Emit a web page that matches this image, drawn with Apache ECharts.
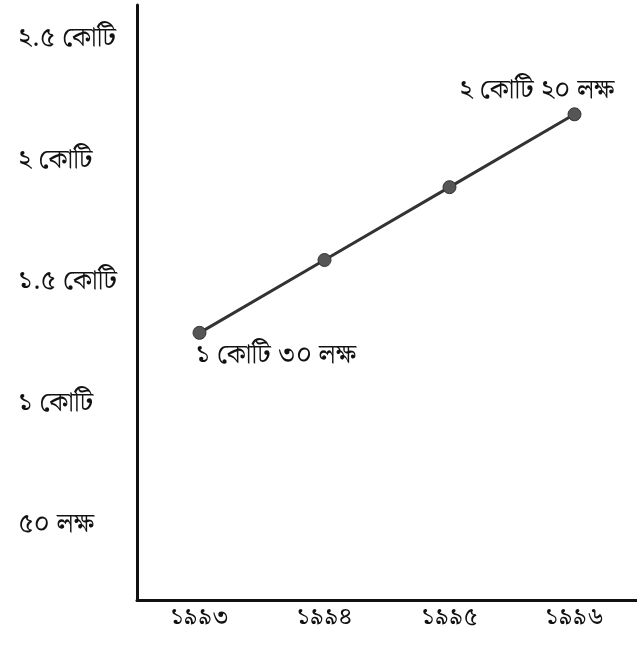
<!DOCTYPE html>
<html>
<head>
<meta charset="utf-8">
<script src="https://cdn.jsdelivr.net/npm/echarts@6/dist/echarts.min.js"></script>
<style>
  html, body { margin: 0; padding: 0; background: #fff; }
  #chart { width: 637px; height: 648px; }
</style>
</head>
<body>
<div id="chart"></div>
<script>
// values in lakh
var years = ['১৯৯৩', '১৯৯৪', '১৯৯৫', '১৯৯৬'];
var population = [130, 160, 190, 220];
var tickValues = [50, 100, 150, 200, 250];
var tickLabels = ['৫০ লক্ষ', '১ কোটি', '১.৫ কোটি', '২ কোটি', '২.৫ কোটি'];
var pointLabels = ['১ কোটি ৩০ লক্ষ', '', '', '২ কোটি ২০ লক্ষ'];

var fontFam = '"Noto Serif Bengali", "Noto Sans Bengali", "Lohit Bengali", FreeSerif, serif';

var chart = echarts.init(document.getElementById('chart'));

var seriesData = population.map(function (v, i) {
    var item = { value: v };
    if (i === 0) {
        item.label = { show: true, position: 'bottom', align: 'left', offset: [-4, 0], formatter: pointLabels[i] };
    } else if (i === population.length - 1) {
        item.label = { show: true, position: 'top', align: 'right', offset: [40, 4], formatter: pointLabels[i] };
    }
    return item;
});

chart.setOption({
    backgroundColor: '#fff',
    animation: false,
    textStyle: { fontFamily: fontFam },
    grid: { left: 137, right: 0, top: 5, bottom: 48 },
    xAxis: {
        type: 'category',
        data: years,
        boundaryGap: true,
        axisLine: { lineStyle: { color: '#111', width: 3 } },
        axisTick: { show: false },
        axisLabel: { color: '#111', fontSize: 25, margin: 8, fontFamily: fontFam }
    },
    yAxis: {
        type: 'value',
        min: 20,
        max: 265,
        splitLine: { show: false },
        axisLine: { show: true, lineStyle: { color: '#111', width: 3 } },
        axisTick: { show: false },
        axisLabel: {
            customValues: tickValues,
            color: '#111',
            fontSize: 27,
            margin: 119,
            align: 'left',
            fontFamily: fontFam,
            formatter: function (v) {
                var i = tickValues.indexOf(v);
                return i >= 0 ? tickLabels[i] : '';
            }
        }
    },
    series: [{
        type: 'line',
        data: seriesData,
        symbol: 'circle',
        symbolSize: 13,
        lineStyle: { color: '#333', width: 3 },
        itemStyle: { color: '#555', borderColor: '#333', borderWidth: 1 },
        label: { color: '#111', fontSize: 27, fontFamily: fontFam }
    }]
});
</script>
</body>
</html>
